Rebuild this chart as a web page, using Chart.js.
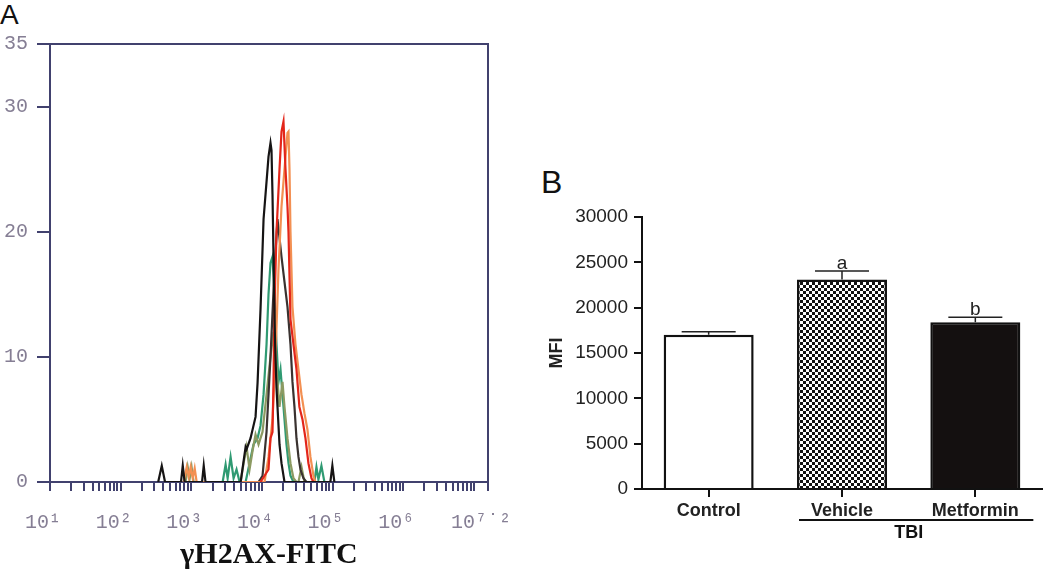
<!DOCTYPE html>
<html>
<head>
<meta charset="utf-8">
<script src="https://cdn.jsdelivr.net/npm/chart.js@4"></script>
<style>
  body { margin: 0; background: #fff; width: 1050px; height: 577px; position: relative; overflow: hidden; }
  canvas { position: absolute; top: 0; }
  .tag { position: absolute; font-family: 'Liberation Sans', Arial, sans-serif; color: #111; line-height: 1; }
</style>
</head>
<body>
<div class="tag" style="left:0px;top:1px;font-size:28px;">A</div>
<div class="tag" style="left:541px;top:166px;font-size:32px;">B</div>
<canvas id="histA" width="520" height="577" style="left:0px"></canvas>
<canvas id="barB" width="520" height="577" style="left:530px"></canvas>
<script>
// ---- panel A: gH2AX-FITC histograms (counts per bin) ----
var black1Fitc = [340, 382, 425, 715, 757, 805, 1420, 1500, 1590, 5000, 5870, 6060, 6900, 8120, 8670, 9550, 10540, 11620, 12390, 13220, 13660, 14110, 14580, 15060, 15560, 16080, 16610, 17160, 17730, 18920, 20860, 93000, 99300, 106000];
var black1Count = [0, 1.3, 0, 0, 1.3, 0, 0, 1.3, 0, 0, 2.8, 2.6, 3.5, 5.2, 7.9, 13.8, 21, 24, 26, 27.1, 26.5, 23, 18, 13, 10, 7.5, 6, 4.5, 3, 1.5, 0, 0, 1.3, 0];

var black2Fitc = [8950, 10190, 11620, 13220, 15060, 16610, 17730, 18920, 20860, 23000, 25360, 27060, 28880, 30820, 32890, 35100, 38700, 42660];
var black2Count = [0, 0.5, 4, 10, 17, 21, 19.5, 18, 16, 14, 11, 8, 6, 3.5, 2, 1, 0.3, 0];

var redFitc = [9550, 12390, 13220, 14110, 14580, 15060, 16080, 17730, 18920, 20190, 21550, 23000, 23760, 25360, 27950, 30820, 33900, 37500, 41300, 45530, 50200, 53580];
var redCount = [0, 1, 3.5, 4, 8, 14, 20, 25, 28, 28.8, 25, 22, 20, 13, 11, 9, 6, 5, 3.5, 1.5, 0.3, 0];

var orangeFitc = [780, 861, 919, 981, 1047, 1117, 1191, 10880, 12390, 14110, 15560, 17160, 18920, 20190, 21550, 23000, 23760, 24550, 25360, 27060, 29830, 32890, 36260, 39980, 44060, 48590, 53580, 57180];
var orangeCount = [0, 1.2, 0.4, 1.2, 0.3, 1.1, 0, 0, 2, 5, 10, 17, 22, 24, 26, 27.9, 28, 25, 20, 14, 11, 9, 7, 5.5, 4.2, 2, 0.5, 0];

var greenFitc = [2780, 3060, 3270, 3600, 3970, 4370, 4830, 5870, 6680, 7600, 8670, 9550, 10540, 11620, 12390, 13220, 14110, 15060, 16080, 17160, 18320, 19550, 20860, 22260, 23760, 25360, 27950, 55300, 59100, 63000, 69500, 76600];
var greenCount = [0, 1.4, 0.3, 2, 0.3, 1, 0, 0, 1.5, 3, 3.5, 4.5, 7, 11, 15, 17.5, 18, 15, 11, 8, 9, 7, 5, 3, 1.5, 0.5, 0, 0, 1.2, 0.2, 1.3, 0];

var oliveFitc = [830, 890, 950, 1010, 1080, 4990, 5500, 6060, 6680, 7370, 8120, 8950, 10190, 11620, 13220, 14580, 16080, 17730, 19550, 20860, 23000, 25360, 27950, 30820, 32900, 36300, 40000];
var oliveCount = [0, 1.2, 0.3, 1.2, 0, 0, 1.5, 2.8, 1, 2.5, 3.8, 3, 4, 7, 10, 12, 9, 6, 8, 6, 3.5, 1.5, 0.3, 0, 0, 1.2, 0];

var countTicks = [0, 10, 20, 30, 35];
var decadeValues = [1e1, 1e2, 1e3, 1e4, 1e5, 1e6, 1e7, 15848932];
var decadeLabels = ['10¹', '10²', '10³', '10⁴', '10⁵', '10⁶', '', '10⁷˙²'];

// ---- panel B: MFI ----
var groups = ['Control', 'Vehicle', 'Metformin'];
var mfiMean = [17000, 23100, 18400];
var mfiSem = [350, 950, 550];
var sigLetters = ['', 'a', 'b'];

function pts(xs, ys) {
    return xs.map(function(x, i) { return { x: x, y: ys[i] }; });
}

var navy = '#41416e';
var tickGray = '#857e94';

// all log ticks k*10^n between 10 and 10^7, plus the 10^7.2 end
var fitcTicks = [];
for (var n = 1; n <= 6; n++) {
    for (var k = 1; k <= 9; k++) fitcTicks.push({ value: k * Math.pow(10, n) });
}
fitcTicks.push({ value: 1e7 });
fitcTicks.push({ value: 15848932 });

var framePlugin = {
    id: 'frame',
    afterDraw: function(chart) {
        var a = chart.chartArea, c = chart.ctx;
        c.save();
        c.strokeStyle = navy;
        c.lineWidth = 2;
        c.beginPath();
        c.moveTo(a.left, a.top);
        c.lineTo(a.right, a.top);
        c.lineTo(a.right, a.bottom);
        c.stroke();
        c.restore();
    }
};

var ctxA = document.getElementById('histA').getContext('2d');
new Chart(ctxA, {
    type: 'line',
    data: {
        datasets: [
            { data: pts(black1Fitc, black1Count), borderColor: '#161414' },
            { data: pts(redFitc, redCount), borderColor: '#e3261a' },
            { data: pts(orangeFitc, orangeCount), borderColor: '#f39052' },
            { data: pts(black2Fitc, black2Count), borderColor: '#3a3230' },
            { data: pts(oliveFitc, oliveCount), borderColor: '#8c9a62' },
            { data: pts(greenFitc, greenCount), borderColor: '#2f9a72' }
        ]
    },
    options: {
        responsive: false,
        animation: false,
        layout: { padding: { top: 44, right: 32, left: 0, bottom: 0 } },
        plugins: { legend: { display: false }, tooltip: { enabled: false } },
        elements: { point: { radius: 0 }, line: { tension: 0, borderWidth: 2.2 } },
        scales: {
            x: {
                type: 'logarithmic',
                min: 10,
                max: 15848932,
                afterBuildTicks: function(s) { s.ticks = fitcTicks.slice(); },
                afterFit: function(s) { s.height = 95; s.paddingLeft = 0; s.paddingRight = 0; },
                ticks: {
                    autoSkip: false,
                    maxRotation: 0,
                    padding: 20,
                    labelOffset: -7,
                    color: tickGray,
                    font: { family: 'Liberation Mono', size: 20 },
                    callback: function(v) {
                        var i = decadeValues.indexOf(v);
                        return i >= 0 ? decadeLabels[i] : '';
                    }
                },
                grid: { drawOnChartArea: false, tickLength: 9, color: navy, lineWidth: 2 },
                border: { color: navy, width: 2 },
                title: {
                    display: true,
                    text: 'γH2AX-FITC',
                    color: '#111',
                    font: { family: 'Liberation Serif', size: 30, weight: 'bold' },
                    padding: { top: 0, bottom: 4 }
                }
            },
            y: {
                min: 0,
                max: 35,
                afterBuildTicks: function(s) { s.ticks = countTicks.map(function(v) { return { value: v }; }); },
                afterFit: function(s) { s.width = 50; s.paddingTop = 0; s.paddingBottom = 0; },
                ticks: { padding: 9, color: tickGray, font: { family: 'Liberation Mono', size: 20 } },
                grid: { drawOnChartArea: false, tickLength: 13, color: navy, lineWidth: 2 },
                border: { color: navy, width: 2 }
            }
        }
    },
    plugins: [framePlugin]
});

// checkerboard fill for the Vehicle bar
var tile = document.createElement('canvas');
tile.width = 6; tile.height = 6;
var tc = tile.getContext('2d');
tc.fillStyle = '#fff';
tc.fillRect(0, 0, 6, 6);
tc.fillStyle = '#111';
tc.fillRect(0, 0, 3, 3);
tc.fillRect(3, 3, 3, 3);

var ctxB = document.getElementById('barB').getContext('2d');
var checker = ctxB.createPattern(tile, 'repeat');

var errorPlugin = {
    id: 'errors',
    afterDatasetsDraw: function(chart) {
        var c = chart.ctx, y = chart.scales.y, x = chart.scales.x;
        var meta = chart.getDatasetMeta(0);
        c.save();
        c.strokeStyle = '#222';
        c.lineWidth = 1.5;
        c.fillStyle = '#222';
        c.font = '19px "Liberation Sans", Arial, sans-serif';
        c.textAlign = 'center';
        c.textBaseline = 'alphabetic';
        meta.data.forEach(function(bar, i) {
            var yTop = y.getPixelForValue(mfiMean[i] + mfiSem[i]);
            var yBar = y.getPixelForValue(mfiMean[i]);
            c.beginPath();
            c.moveTo(bar.x, yBar);
            c.lineTo(bar.x, yTop);
            c.moveTo(bar.x - 27, yTop);
            c.lineTo(bar.x + 27, yTop);
            c.stroke();
            if (sigLetters[i]) c.fillText(sigLetters[i], bar.x, yTop - 2);
        });
        // TBI bracket under Vehicle and Metformin
        var x1 = x.getPixelForValue(1), x2 = x.getPixelForValue(2);
        var yb = chart.chartArea.bottom + 31;
        c.lineWidth = 2;
        c.strokeStyle = '#111';
        c.beginPath();
        c.moveTo(x1 - 43, yb);
        c.lineTo(x2 + 58, yb);
        c.stroke();
        c.font = 'bold 18px "Liberation Sans", Arial, sans-serif';
        c.textBaseline = 'middle';
        c.fillStyle = '#111';
        c.fillText('TBI', (x1 + x2) / 2, yb + 13);
        c.restore();
    }
};

new Chart(ctxB, {
    type: 'bar',
    data: {
        labels: groups,
        datasets: [{
            data: mfiMean,
            backgroundColor: ['#ffffff', checker, '#141010'],
            borderColor: '#111',
            borderWidth: 2.5,
            barPercentage: 0.675,
            categoryPercentage: 1
        }]
    },
    options: {
        responsive: false,
        animation: false,
        layout: { padding: { top: 217, right: 8, left: 0, bottom: 0 } },
        plugins: { legend: { display: false }, tooltip: { enabled: false } },
        scales: {
            x: {
                afterFit: function(s) { s.height = 88; },
                grid: { offset: false, drawOnChartArea: false, tickLength: 8, color: '#111', lineWidth: 2 },
                border: { color: '#111', width: 2 },
                ticks: { padding: 3, color: '#222', font: { family: 'Liberation Sans', size: 18, weight: 'bold' } }
            },
            y: {
                min: 0,
                max: 30000,
                afterFit: function(s) { s.width = 112; },
                ticks: {
                    stepSize: 5000,
                    padding: 6,
                    color: '#222',
                    font: { family: 'Liberation Sans', size: 19 },
                    callback: function(v) { return String(v); }
                },
                grid: { drawOnChartArea: false, tickLength: 8, color: '#111', lineWidth: 2 },
                border: { color: '#111', width: 2 },
                title: {
                    display: true,
                    text: 'MFI',
                    color: '#222',
                    font: { family: 'Liberation Sans', size: 18, weight: 'bold' },
                    padding: { top: 16, bottom: 0 }
                }
            }
        }
    },
    plugins: [errorPlugin]
});
</script>
</body>
</html>
